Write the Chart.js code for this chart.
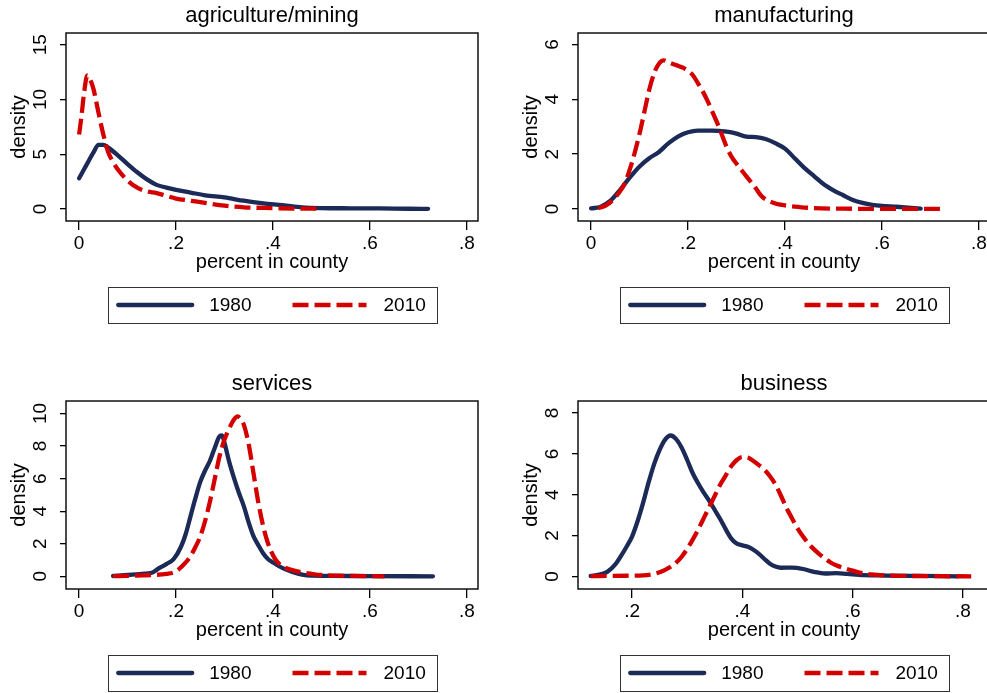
<!DOCTYPE html>
<html>
<head>
<meta charset="utf-8">
<title>Industry shares by county, 1980 vs 2010</title>
<script src="https://cdn.jsdelivr.net/npm/chart.js@4.4.1/dist/chart.umd.min.js"></script>
<style>
  html, body { margin: 0; padding: 0; background: #fff; width: 987px; height: 693px; overflow: hidden; }
  body { position: relative; }
  canvas.panel { position: absolute; }
</style>
</head>
<body>
<canvas id="agri" class="panel" width="493" height="325" style="left:0px;top:0px"></canvas>
<canvas id="manu" class="panel" width="493" height="325" style="left:512px;top:0px"></canvas>
<canvas id="serv" class="panel" width="493" height="325" style="left:0px;top:368px"></canvas>
<canvas id="busi" class="panel" width="493" height="325" style="left:512px;top:368px"></canvas>
<script>
// kernel density of industry share per county

const navy = '#1b2a56';
const red = '#d40000';
const fontFamily = "'Liberation Sans', Arial, Helvetica, sans-serif";

// agriculture/mining
const agriX1980 = [0, .01, .02, .03, .04, .05, .06, .08, .10, .12, .14, .16, .18, .20, .23, .26, .30, .34, .38, .42, .46, .50, .56, .62, .68, .72];
const agriY1980 = [2.8, 3.6, 4.4, 5.2, 5.85, 5.85, 5.6, 4.9, 4.1, 3.35, 2.7, 2.2, 1.95, 1.75, 1.5, 1.25, 1.05, .75, .5, .35, .15, .08, .06, .05, .02, .01];
const agriX2010 = [0, .005, .01, .017, .025, .03, .04, .05, .06, .07, .08, .10, .12, .14, .16, .18, .20, .23, .26, .30, .34, .40, .45, .50];
const agriY2010 = [6.8, 8.5, 10.5, 12.2, 11.6, 10.9, 8.8, 6.8, 5.2, 4.3, 3.6, 2.6, 1.95, 1.6, 1.45, 1.2, .95, .75, .55, .3, .15, .08, .03, .02];

// manufacturing
const manuX1980 = [0, .02, .04, .06, .08, .10, .12, .14, .16, .18, .20, .22, .25, .28, .30, .32, .34, .36, .38, .40, .42, .44, .46, .48, .50, .52, .54, .56, .58, .60, .63, .66, .68];
const manuY1980 = [.02, .08, .3, .7, 1.15, 1.55, 1.85, 2.08, 2.4, 2.65, 2.8, 2.86, 2.86, 2.82, 2.75, 2.64, 2.62, 2.55, 2.4, 2.2, 1.85, 1.5, 1.2, .9, .68, .5, .33, .22, .15, .11, .08, .04, .01];
const manuX2010 = [.015, .03, .045, .06, .07, .08, .09, .10, .11, .12, .13, .14, .15, .16, .175, .19, .20, .21, .22, .23, .24, .25, .26, .27, .28, .29, .30, .32, .34, .35, .36, .38, .40, .43, .46, .52, .60, .72];
const manuY2010 = [.03, .12, .33, .65, .95, 1.45, 2.05, 2.75, 3.55, 4.35, 4.95, 5.3, 5.42, 5.35, 5.25, 5.15, 5.05, 4.88, 4.6, 4.3, 3.95, 3.55, 3.15, 2.7, 2.25, 1.9, 1.65, 1.2, .75, .5, .35, .2, .13, .07, .03, .01, 0, 0];

// services
const servX1980 = [.07, .10, .13, .15, .165, .18, .195, .21, .22, .23, .24, .25, .26, .27, .28, .29, .295, .30, .31, .32, .33, .34, .35, .36, .37, .38, .39, .40, .42, .44, .46, .48, .52, .60, .73];
const servY1980 = [.02, .08, .15, .22, .5, .75, 1.05, 1.8, 2.6, 3.7, 4.8, 5.8, 6.5, 7.1, 7.9, 8.6, 8.65, 8.2, 7.0, 6.0, 5.1, 4.3, 3.3, 2.45, 1.9, 1.4, 1.05, .85, .5, .27, .1, .04, .03, .01, 0];
const servX2010 = [.07, .10, .13, .15, .18, .20, .21, .22, .23, .24, .25, .26, .27, .28, .29, .30, .31, .32, .327, .335, .34, .35, .36, .37, .38, .39, .40, .41, .42, .44, .46, .48, .50, .55, .63];
const servY2010 = [.01, .03, .06, .08, .15, .3, .55, .85, 1.25, 1.8, 2.45, 3.4, 4.6, 6.0, 7.4, 8.4, 9.1, 9.65, 9.82, 9.6, 9.3, 8.1, 6.3, 4.5, 3.05, 2.0, 1.3, .85, .6, .38, .24, .15, .08, .03, 0];

// business
const busiX1980 = [.125, .14, .155, .17, .18, .19, .20, .21, .22, .23, .24, .25, .26, .27, .28, .29, .30, .31, .32, .33, .34, .35, .36, .37, .38, .39, .40, .41, .42, .43, .44, .45, .46, .47, .49, .51, .53, .55, .57, .59, .62, .66, .72, .79];
const busiY1980 = [.02, .08, .22, .6, 1.0, 1.45, 1.95, 2.7, 3.6, 4.6, 5.5, 6.2, 6.7, 6.9, 6.72, 6.3, 5.7, 5.05, 4.55, 4.1, 3.7, 3.25, 2.8, 2.3, 1.85, 1.6, 1.52, 1.45, 1.3, 1.1, .85, .62, .48, .42, .43, .36, .22, .14, .16, .12, .06, .04, .02, 0];
const busiX2010 = [.125, .16, .19, .22, .24, .25, .26, .27, .28, .29, .30, .31, .32, .33, .34, .35, .36, .37, .38, .39, .40, .41, .42, .43, .44, .45, .46, .47, .48, .49, .50, .51, .52, .53, .54, .55, .56, .57, .58, .60, .62, .64, .66, .70, .75, .815];
const busiY2010 = [.01, .02, .03, .05, .12, .2, .32, .47, .67, .96, 1.35, 1.8, 2.3, 2.85, 3.4, 3.95, 4.5, 4.95, 5.4, 5.7, 5.85, 5.82, 5.65, 5.45, 5.22, 4.9, 4.5, 3.95, 3.35, 2.85, 2.35, 1.95, 1.6, 1.32, 1.08, .87, .68, .54, .44, .28, .14, .08, .04, .02, .01, 0];

// tick labels
const xTicksFromZero = [0, .2, .4, .6, .8];
const xTicksBusiness = [.2, .4, .6, .8];
const agriYTicks = [0, 5, 10, 15];
const manuYTicks = [0, 2, 4, 6];
const servYTicks = [0, 2, 4, 6, 8, 10];
const busiYTicks = [0, 2, 4, 6, 8];

function toPoints(xs, ys) {
    return xs.map((x, i) => ({ x: x, y: ys[i] }));
}

// stata style ".2" labels
function shareLabel(v) {
    return v === 0 ? '0' : v.toFixed(1).replace(/^0/, '');
}

// black box round the plot region
const framePlugin = {
    id: 'frame',
    afterDraw(chart) {
        const a = chart.chartArea;
        const ctx = chart.ctx;
        ctx.save();
        ctx.strokeStyle = '#000';
        ctx.lineWidth = 1.4;
        ctx.strokeRect(a.left, a.top, a.right - a.left, a.bottom - a.top);
        ctx.restore();
    }
};

// stata legend: boxed, one row, long line samples
const legendBoxPlugin = {
    id: 'legendBox',
    afterDraw(chart) {
        const ctx = chart.ctx;
        const a = chart.chartArea;
        const sets = chart.data.datasets;
        const cx = (a.left + a.right) / 2;
        const top = chart.height - 38, bottom = chart.height - 2;
        const mid = (top + bottom) / 2;
        const sample = 74, gapText = 17, gapItem = 41;

        ctx.save();
        ctx.font = '19px ' + fontFamily;
        const widths = sets.map(d => ctx.measureText(d.label).width);
        let content = 0;
        widths.forEach((w, i) => { content += sample + gapText + w + (i ? gapItem : 0); });
        const boxW = content + 21;
        const left = cx - boxW / 2;

        ctx.strokeStyle = '#333';
        ctx.lineWidth = 1;
        ctx.strokeRect(Math.round(left) + 0.5, top + 0.5, Math.round(boxW), bottom - top);

        let x = left + 10.5;
        sets.forEach((d, i) => {
            ctx.beginPath();
            ctx.setLineDash(d.borderDash || []);
            ctx.lineCap = d.borderDash ? 'butt' : 'round';
            ctx.strokeStyle = d.borderColor;
            ctx.lineWidth = d.borderWidth;
            ctx.moveTo(x, mid);
            ctx.lineTo(x + sample, mid);
            ctx.stroke();
            ctx.setLineDash([]);
            ctx.fillStyle = '#000';
            ctx.textBaseline = 'middle';
            ctx.textAlign = 'left';
            ctx.fillText(d.label, x + sample + gapText, mid + 1);
            x += sample + gapText + widths[i] + gapItem;
        });
        ctx.restore();
    }
};

function makePanel(id, title, data1980, data2010, xRange, xTicks, yRange, yTicks) {
    const digits = Math.max(...yTicks.map(v => String(v).length));
    const yPad = 19 - digits * 0.556 * 19 / 2;
    const tickFont = { family: fontFamily, size: 19 };
    const titleFont = { family: fontFamily, size: 20 };

    new Chart(document.getElementById(id), {
        type: 'line',
        data: {
            datasets: [{
                label: '1980',
                data: data1980,
                borderColor: navy,
                borderWidth: 4.3,
                borderCapStyle: 'round',
                order: 1
            }, {
                label: '2010',
                data: data2010,
                borderColor: red,
                borderWidth: 4.3,
                borderDash: [16, 6],
                order: 0
            }]
        },
        options: {
            responsive: false,
            animation: false,
            devicePixelRatio: 1,
            elements: {
                point: { radius: 0, hoverRadius: 0 },
                line: { cubicInterpolationMode: 'monotone', fill: false, borderJoinStyle: 'round' }
            },
            layout: { padding: { left: 0, right: 15, top: 0, bottom: 45 } },
            plugins: {
                legend: { display: false },
                tooltip: { enabled: false },
                title: {
                    display: true,
                    text: title,
                    fullSize: false,
                    color: '#000',
                    font: { family: fontFamily, size: 22, weight: 'normal' },
                    padding: { top: 3, bottom: 3.6 }
                }
            },
            scales: {
                x: {
                    type: 'linear',
                    min: xRange[0],
                    max: xRange[1],
                    afterBuildTicks: s => { s.ticks = xTicks.map(v => ({ value: v })); },
                    afterFit: s => { s.height = 59; },
                    grid: { drawOnChartArea: false, drawTicks: true, tickLength: 9, color: '#000', lineWidth: 1.3 },
                    border: { display: false },
                    ticks: { callback: v => shareLabel(v), color: '#000', font: tickFont, padding: 2, maxRotation: 0, autoSkip: false },
                    title: { display: true, text: 'percent in county', color: '#000', font: titleFont, padding: { top: 0, bottom: 5.5 } }
                },
                y: {
                    type: 'linear',
                    min: yRange[0],
                    max: yRange[1],
                    afterBuildTicks: s => { s.ticks = yTicks.map(v => ({ value: v })); },
                    afterFit: s => { s.width = 66; },
                    grid: { drawOnChartArea: false, drawTicks: true, tickLength: 6, color: '#000', lineWidth: 1.3 },
                    border: { display: false },
                    ticks: { callback: v => String(v), color: '#000', font: tickFont, padding: yPad, minRotation: 90, maxRotation: 90, crossAlign: 'center', autoSkip: false },
                    title: { display: true, text: 'density', color: '#000', font: titleFont, padding: { top: 7, bottom: 0 } }
                }
            }
        },
        plugins: [framePlugin, legendBoxPlugin]
    });
}

makePanel('agri', 'agriculture/mining', toPoints(agriX1980, agriY1980), toPoints(agriX2010, agriY2010),
    [-0.027, 0.823], xTicksFromZero, [-1.1, 16.07], agriYTicks);
makePanel('manu', 'manufacturing', toPoints(manuX1980, manuY1980), toPoints(manuX2010, manuY2010),
    [-0.027, 0.823], xTicksFromZero, [-0.44, 6.42], manuYTicks);
makePanel('serv', 'services', toPoints(servX1980, servY1980), toPoints(servX2010, servY2010),
    [-0.027, 0.823], xTicksFromZero, [-0.78, 10.77], servYTicks);
makePanel('busi', 'business', toPoints(busiX1980, busiY1980), toPoints(busiX2010, busiY2010),
    [0.102, 0.849], xTicksBusiness, [-0.62, 8.59], busiYTicks);
</script>
</body>
</html>
